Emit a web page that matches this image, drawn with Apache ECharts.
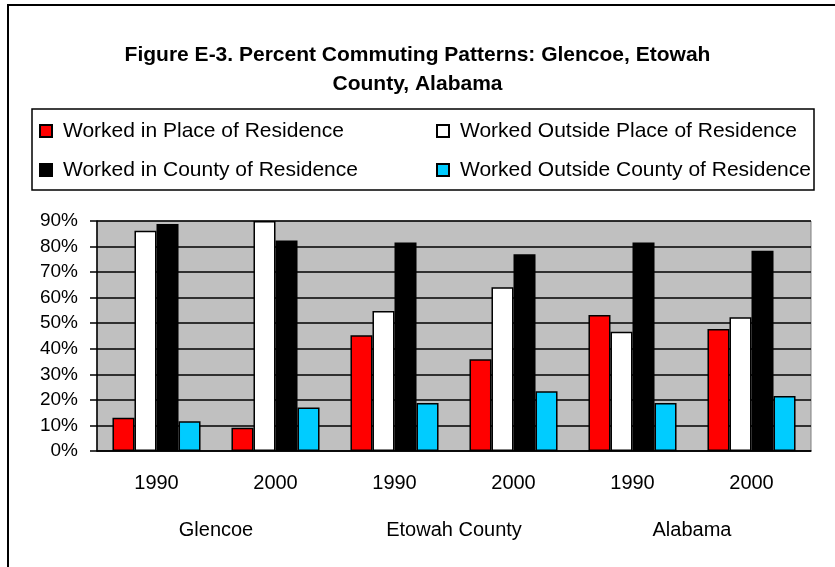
<!DOCTYPE html>
<html>
<head>
<meta charset="utf-8">
<script src="https://cdn.jsdelivr.net/npm/echarts@6/dist/echarts.min.js"></script>
<style>
  html, body { margin: 0; padding: 0; background: #fff; }
  #chart { width: 835px; height: 567px; }
</style>
</head>
<body>
<div id="chart"></div>
<script>
var years = ['1990', '2000', '1990', '2000', '1990', '2000'];
var places = ['Glencoe', 'Etowah County', 'Alabama'];
var seriesNames = [
  'Worked in Place of Residence',
  'Worked Outside Place of Residence',
  'Worked in County of Residence',
  'Worked Outside County of Residence'
];
var inPlace = [13.0, 9.1, 45.3, 35.9, 53.2, 47.7];
var outsidePlace = [86.2, 90.0, 54.8, 64.1, 46.7, 52.3];
var inCounty = [88.8, 82.4, 81.6, 77.0, 81.6, 78.4];
var outsideCounty = [11.6, 17.0, 18.8, 23.4, 18.8, 21.5];
var colors = ['#ff0000', '#ffffff', '#000000', '#00ccff'];

var FONT = "'Liberation Sans', Arial, sans-serif";

var myChart = echarts.init(document.getElementById('chart'), null, {renderer: 'canvas'});

var values = [inPlace, outsidePlace, inCounty, outsideCounty];
var series = values.map(function (d, i) {
  return {
    name: seriesNames[i],
    type: 'bar',
    xAxisIndex: 0,
    data: d,
    barGap: '0%',
    barCategoryGap: '26%',
    itemStyle: {color: colors[i], borderColor: '#000', borderWidth: 1.5},
    emphasis: {disabled: true},
    animation: false
  };
});

// one legend per item so the two columns line up
var legendPos = [[39, 120], [436, 120], [39, 159], [436, 159]];
var legends = seriesNames.map(function (n, i) {
  return {
    data: [n],
    left: legendPos[i][0],
    top: legendPos[i][1],
    padding: 0,
    icon: 'rect',
    itemWidth: 12,
    itemHeight: 12,
    selectedMode: false,
    textStyle: {fontFamily: FONT, fontSize: 21, color: '#000', lineHeight: 22, padding: [0, 0, 0, 6]}
  };
});

var option = {
  backgroundColor: '#fff',
  animation: false,
  title: {
    text: 'Figure E-3. Percent Commuting Patterns: Glencoe, Etowah\nCounty, Alabama',
    left: 'center',
    top: 36,
    textStyle: {fontFamily: FONT, fontSize: 21, fontWeight: 'bold', color: '#000', lineHeight: 29}
  },
  legend: legends,
  graphic: [
    {type: 'rect', shape: {x: 8, y: 5, width: 900, height: 700}, style: {fill: null, stroke: '#000', lineWidth: 2}, silent: true},
    {type: 'rect', shape: {x: 32, y: 109, width: 782, height: 81}, style: {fill: null, stroke: '#000', lineWidth: 1.5}, silent: true}
  ],
  grid: {
    left: 97, right: 24, top: 221, bottom: 116,
    show: true, backgroundColor: '#c0c0c0', borderColor: '#808080', borderWidth: 1
  },
  xAxis: [
    {
      type: 'category',
      data: years,
      position: 'bottom',
      axisLine: {lineStyle: {color: '#000', width: 1.5}},
      axisTick: {length: 46, interval: 0, lineStyle: {color: '#000', width: 1.5}},
      axisLabel: {fontFamily: FONT, fontSize: 20, color: '#000', margin: 22, interval: 0}
    },
    {
      type: 'category',
      data: places,
      position: 'bottom',
      axisLine: {show: false},
      axisTick: {length: 95, interval: 0, lineStyle: {color: '#000', width: 1.5}},
      axisLabel: {fontFamily: FONT, fontSize: 20, color: '#000', margin: 69, interval: 0}
    }
  ],
  yAxis: {
    type: 'value',
    min: 0,
    max: 90,
    interval: 10,
    axisLine: {show: true, lineStyle: {color: '#000', width: 1.5}},
    axisTick: {show: true, length: 7, lineStyle: {color: '#000', width: 1.5}},
    axisLabel: {formatter: '{value}%', fontFamily: FONT, fontSize: 19, color: '#000', margin: 19},
    splitLine: {lineStyle: {color: '#000', width: 1.5}}
  },
  series: series
};

myChart.setOption(option);
</script>
</body>
</html>
